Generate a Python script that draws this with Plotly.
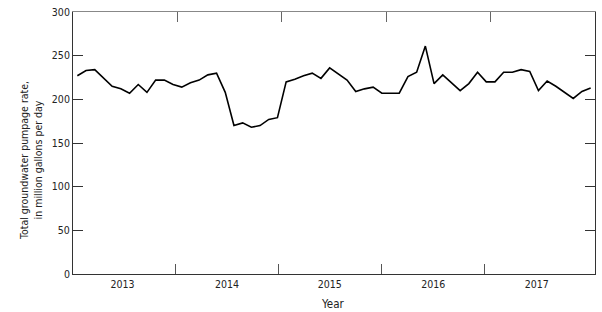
import plotly.graph_objects as go

# Monthly data, January 2013 through December 2017
YEARS = ["2013", "2014", "2015", "2016", "2017"]
MONTHS = [f"{y}-{m:02d}" for y in YEARS for m in range(1, 13)]
PUMPAGE = [
    227, 233, 234, 224, 215, 212, 207, 217, 208, 222,
    222, 217, 214, 219, 222, 228, 230, 208, 170, 173,
    168, 170, 177, 179, 220, 223, 227, 230, 224, 236,
    229, 222, 209, 212, 214, 207, 207, 207, 226, 231,
    261, 218, 228, 219, 210, 218, 231, 220, 220, 231,
    231, 234, 232, 210, 221, 215, 208, 201, 209, 213,
]
Y_TICKS = [0, 50, 100, 150, 200, 250, 300]

x_idx = list(range(len(MONTHS)))
FONT = "Liberation Sans Narrow, DejaVu Sans Condensed, Arial Narrow, sans-serif"

fig = go.Figure()
fig.add_trace(go.Scatter(
    x=x_idx, y=PUMPAGE, mode="lines",
    line=dict(color="black", width=1.6),
    text=MONTHS, hovertemplate="%{text}: %{y}<extra></extra>",
    showlegend=False,
))
# invisible trace to anchor the top axis
fig.add_trace(go.Scatter(x=[x_idx[0]], y=[PUMPAGE[0]], xaxis="x2", mode="markers",
                         marker=dict(opacity=0), showlegend=False, hoverinfo="skip"))

label_pos = [5.2, 17.2, 29.0, 40.9, 52.8]
bottom_ticks = [11.33, 23.15, 35.0, 46.8]
top_ticks = [11.5, 23.5, 35.5, 47.5]

fig.update_layout(
    width=602, height=312,
    margin=dict(l=73, r=6, t=7, b=38),
    paper_bgcolor="white", plot_bgcolor="white",
    font=dict(family=FONT, size=10.5, color="#222"),
    xaxis=dict(
        range=[-0.5, 59.5], showgrid=False, zeroline=False,
        showline=True, linecolor="#333", linewidth=1,
        tickmode="array", tickvals=label_pos, ticktext=YEARS,
        ticks="", tickfont=dict(size=10.5, family=FONT, color="#222"),
        minor=dict(tickmode="array", tickvals=bottom_ticks, ticks="inside",
                   ticklen=10, tickwidth=1, tickcolor="#555", showgrid=False),
    ),
    xaxis2=dict(
        overlaying="x", side="top", range=[-0.5, 59.5],
        showgrid=False, zeroline=False, showline=True, linecolor="#888", linewidth=1,
        tickmode="array", tickvals=top_ticks, ticks="inside", ticklen=10,
        tickcolor="#666", showticklabels=False,
    ),
    yaxis=dict(
        range=[0, 300], showgrid=False, zeroline=False,
        showline=True, linecolor="#333", linewidth=1, mirror="ticks",
        tickmode="array", tickvals=Y_TICKS, ticks="inside", ticklen=10,
        tickcolor="#333", tickfont=dict(size=10.5, family=FONT, color="#222"),
    ),
    annotations=[
        dict(text="Total groundwater pumpage rate,<br>in million gallons per day",
             xref="paper", yref="paper", x=-0.079, y=0.434, xanchor="center",
             yanchor="middle", textangle=-90, showarrow=False,
             font=dict(size=10.5, family=FONT, color="#222")),
        dict(text="Year", xref="paper", yref="paper", x=0.497, y=-0.115,
             xanchor="center", yanchor="middle", showarrow=False,
             font=dict(size=11.5, family=FONT, color="#222")),
    ],
)

fig.write_html("out.html")
